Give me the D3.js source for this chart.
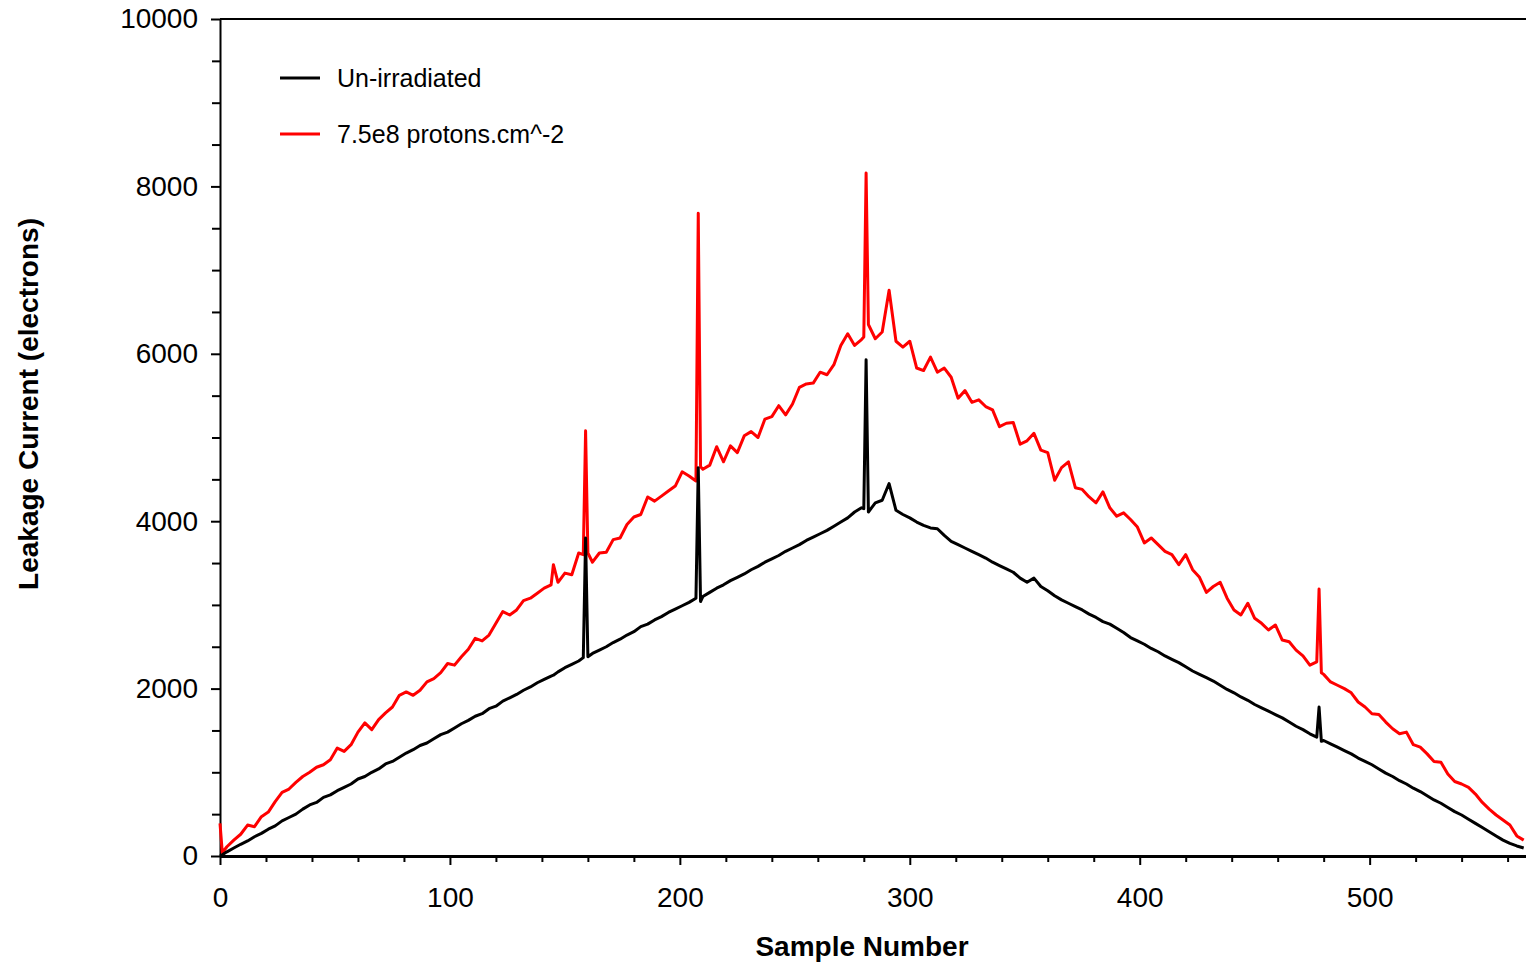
<!DOCTYPE html>
<html>
<head>
<meta charset="utf-8">
<script src="https://cdn.jsdelivr.net/npm/d3@7"></script>
<style>
  body { margin: 0; background: #fff; }
  text { font-family: "Liberation Sans", Arial, sans-serif; }
</style>
</head>
<body>
<div id="chart"></div>
<script>
// Data
const sampleNumbers = [0,1,3,6,9,12,15,18,21,24,27,30,33,36,39,42,45,48,51,54,57,60,63,66,69,72,75,78,81,84,87,90,93,96,99,102,105,108,111,114,117,120,123,126,129,132,135,138,141,144,145,147,150,153,156,158,159,160,162,165,168,171,174,177,180,183,186,189,192,195,198,201,204,207,208,209,210,213,216,219,222,225,228,231,234,237,240,243,246,249,252,255,258,261,264,267,270,273,276,279,280,281,282,285,288,291,294,297,300,303,306,309,312,315,318,321,324,327,330,333,336,339,342,345,348,351,354,357,360,363,366,369,372,375,378,381,384,387,390,393,396,399,402,405,408,411,414,417,420,423,426,429,432,435,438,441,444,447,450,453,456,459,462,465,468,471,474,477,478,479,480,483,486,489,492,495,498,501,504,507,510,513,516,519,522,525,528,531,534,537,540,543,546,549,552,555,558,561,564,567];

const unIrradiated = [0,15,50,95,140,180,230,270,320,360,420,460,500,560,610,640,700,730,780,820,860,920,950,1000,1040,1100,1130,1180,1230,1270,1320,1350,1400,1450,1480,1530,1580,1620,1670,1700,1760,1790,1850,1890,1930,1980,2020,2070,2110,2150,2160,2200,2250,2290,2330,2370,3800,2380,2420,2460,2500,2550,2590,2640,2680,2740,2770,2820,2860,2910,2950,2990,3030,3080,4640,3040,3100,3150,3200,3240,3290,3330,3370,3420,3460,3510,3550,3590,3640,3680,3720,3770,3810,3850,3890,3940,3990,4040,4110,4160,4150,5930,4110,4220,4250,4450,4130,4080,4040,3990,3950,3920,3910,3830,3760,3720,3680,3640,3600,3560,3510,3470,3430,3390,3320,3270,3320,3220,3170,3110,3060,3020,2980,2940,2890,2850,2800,2770,2720,2670,2610,2570,2530,2480,2440,2390,2350,2310,2260,2210,2170,2130,2090,2040,1990,1950,1900,1860,1810,1770,1730,1690,1650,1600,1550,1510,1460,1420,1780,1370,1380,1340,1300,1260,1220,1170,1130,1090,1040,990,950,900,860,810,770,720,670,630,580,530,490,440,390,340,290,240,190,150,120,95];

const irradiated = [390,40,110,190,260,370,350,470,525,650,760,800,880,950,1000,1060,1090,1150,1290,1250,1330,1480,1590,1510,1630,1710,1780,1920,1960,1920,1980,2080,2120,2190,2300,2280,2380,2470,2600,2570,2640,2780,2920,2880,2940,3050,3080,3140,3200,3240,3480,3270,3380,3360,3620,3600,5080,3620,3510,3620,3630,3780,3800,3960,4050,4080,4290,4240,4300,4360,4420,4590,4540,4480,7680,4650,4620,4670,4890,4710,4900,4820,5020,5070,5000,5220,5250,5380,5270,5400,5600,5640,5650,5780,5750,5870,6100,6240,6100,6170,6200,8160,6350,6180,6260,6760,6150,6080,6150,5830,5800,5960,5780,5830,5720,5470,5560,5420,5450,5370,5330,5130,5170,5180,4920,4960,5050,4850,4820,4490,4640,4710,4400,4380,4290,4220,4350,4160,4060,4100,4020,3930,3740,3800,3720,3640,3600,3480,3600,3420,3330,3150,3220,3270,3080,2940,2880,3020,2840,2780,2700,2760,2580,2560,2460,2390,2280,2320,3190,2190,2170,2080,2040,2000,1950,1840,1780,1700,1690,1600,1520,1460,1480,1330,1300,1220,1130,1120,980,890,860,820,740,640,560,490,430,370,240,190];

const seriesNames = ['Un-irradiated', '7.5e8 protons.cm^-2'];
const seriesColors = ['#000000', '#ff0000'];
const xMajorTicks = [0, 100, 200, 300, 400, 500];
const yMajorTicks = [0, 2000, 4000, 6000, 8000, 10000];

// Dimensions
const width = 1526;
const height = 963;
const margin = {top: 19, right: 0, bottom: 107, left: 220};

const svg = d3.select('#chart')
  .append('svg')
    .attr('width', width)
    .attr('height', height)

// Scales
const scaleX = d3.scaleLinear()
  .domain([0, 568])
  .range([margin.left, width - margin.right])
const scaleY = d3.scaleLinear()
  .domain([0, 10000])
  .range([height - margin.bottom, margin.top])

// Minor ticks
const xMinor = d3.range(0, 568, 20).filter(v => v % 100 !== 0);
const yMinor = d3.range(0, 10001, 500).filter(v => v % 2000 !== 0);

svg.append('g')
  .attr('transform', `translate(0, ${scaleY(0)})`)
  .call(d3.axisBottom(scaleX).tickValues(xMinor).tickSize(6).tickFormat(''))
  .call(g => g.select('.domain').remove())
  .selectAll('line').attr('stroke-width', 2)

svg.append('g')
  .attr('transform', `translate(${margin.left}, 0)`)
  .call(d3.axisLeft(scaleY).tickValues(yMinor).tickSize(8).tickFormat(''))
  .call(g => g.select('.domain').remove())
  .selectAll('line').attr('stroke-width', 2)

// Major axes
const xAxis = svg.append('g')
  .attr('transform', `translate(0, ${scaleY(0)})`)
  .call(d3.axisBottom(scaleX).tickValues(xMajorTicks).tickFormat(d3.format('d'))
    .tickSize(9).tickSizeOuter(0).tickPadding(22))
xAxis.select('.domain').attr('stroke-width', 3)
xAxis.selectAll('line').attr('stroke-width', 2)
xAxis.selectAll('text').attr('font-size', 28).attr('fill', '#000')

const yAxis = svg.append('g')
  .attr('transform', `translate(${margin.left}, 0)`)
  .call(d3.axisLeft(scaleY).tickValues(yMajorTicks).tickFormat(d3.format('d'))
    .tickSize(9).tickSizeOuter(0).tickPadding(13))
yAxis.select('.domain').attr('stroke-width', 2)
yAxis.selectAll('line').attr('stroke-width', 2)
yAxis.selectAll('text').attr('font-size', 28).attr('fill', '#000')

// Top border
svg.append('line')
  .attr('x1', margin.left)
  .attr('x2', width)
  .attr('y1', scaleY(10000))
  .attr('y2', scaleY(10000))
  .attr('stroke', '#000')
  .attr('stroke-width', 2)

// Lines
const line = d3.line()
  .x((d, i) => scaleX(sampleNumbers[i]))
  .y((d) => scaleY(d))

svg.append('path')
  .datum(irradiated)
  .attr('d', line)
  .attr('fill', 'none')
  .attr('stroke', seriesColors[1])
  .attr('stroke-width', 3)
  .attr('stroke-linejoin', 'round')

svg.append('path')
  .datum(unIrradiated)
  .attr('d', line)
  .attr('fill', 'none')
  .attr('stroke', seriesColors[0])
  .attr('stroke-width', 3)
  .attr('stroke-linejoin', 'round')

// Axis titles
svg.append('text')
  .attr('x', 862)
  .attr('y', 956)
  .attr('text-anchor', 'middle')
  .attr('font-size', 28)
  .attr('font-weight', 'bold')
  .text('Sample Number')

svg.append('text')
  .attr('transform', 'translate(38, 404) rotate(-90)')
  .attr('text-anchor', 'middle')
  .attr('font-size', 28)
  .attr('font-weight', 'bold')
  .text('Leakage Current (electrons)')

// Legend
const legend = svg.append('g');
seriesNames.forEach((name, i) => {
  const y = 78 + i * 56;
  legend.append('line')
    .attr('x1', 280).attr('x2', 320)
    .attr('y1', y).attr('y2', y)
    .attr('stroke', seriesColors[i])
    .attr('stroke-width', 3)
  legend.append('text')
    .attr('x', 337)
    .attr('y', y + 9)
    .attr('font-size', 25)
    .text(name)
})
</script>
</body>
</html>
